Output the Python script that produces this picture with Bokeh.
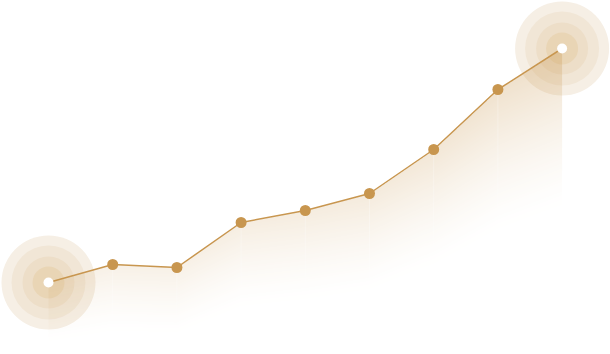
import numpy as np
from bokeh.plotting import figure
from bokeh.embed import file_html
from bokeh.resources import INLINE

# ---- data ----
categories = [0, 1, 2, 3, 4, 5, 6, 7, 8]
values = [72, 90, 87, 132, 144, 161, 205, 265, 306]

line_color = "#c8964f"
fill_rgb = [201, 151, 79]

x = np.array(categories, dtype=float)
y = np.array(values, dtype=float)

Y0, Y1 = 0, 354
p = figure(width=610, height=354, x_range=(-0.7477, 8.754), y_range=(Y0, Y1),
           x_axis_type=None, y_axis_type=None, toolbar_location=None,
           output_backend="svg", min_border=0, outline_line_color=None,
           background_fill_color="white", border_fill_color="white")
p.grid.visible = False

# halos at first and last point
ends_x = [x[0], x[-1]]
ends_y = [y[0], y[-1]]
for size, col in [(94, "#f6efe5"), (74, "#f1e6d6"), (52, "#eddec8"), (32, "#e9d5b5")]:
    p.scatter(ends_x, ends_y, size=size, fill_color=col, line_color=None)

# area fill as a gradient image under the line
W, H = 514, 354
dw = x[-1] - x[0]
dh = Y1 - Y0
cx = x[0] + (np.arange(W) + 0.5) * dw / W
cv = Y0 + (np.arange(H) + 0.5) * dh / H
ly = np.interp(cx, x, y)
ymin, ymax = y.min(), y.max()
A = 0.13 + 0.18 * (ly - ymin) / (ymax - ymin)
L = 0.42 * ly + 32
depth = ly[None, :] - cv[:, None]
t = np.clip(depth / L[None, :], 0, 1)
alpha = A[None, :] * (1 - t) ** 1.4
alpha[depth < 0] = 0
img = np.zeros((H, W), dtype=np.uint32)
view = img.view(dtype=np.uint8).reshape((H, W, 4))
view[:, :, 0] = fill_rgb[0]
view[:, :, 1] = fill_rgb[1]
view[:, :, 2] = fill_rgb[2]
view[:, :, 3] = np.round(alpha * 255).astype(np.uint8)
p.image_rgba(image=[img], x=x[0], y=Y0, dw=dw, dh=dh)

# faint seams under interior points
Li = 0.42 * y + 32
p.segment(x0=x[1:-1], y0=y[1:-1], x1=x[1:-1], y1=(y - Li)[1:-1],
          line_color="white", line_alpha=0.28, line_width=1)

# line and points
p.line(x, y, line_color=line_color, line_width=1.5)
p.scatter(x[1:-1], y[1:-1], size=11, fill_color=line_color, line_color=None)
p.scatter(ends_x, ends_y, size=10, fill_color="white", line_color=None)

open("out.html", "w").write(file_html(p, INLINE))
